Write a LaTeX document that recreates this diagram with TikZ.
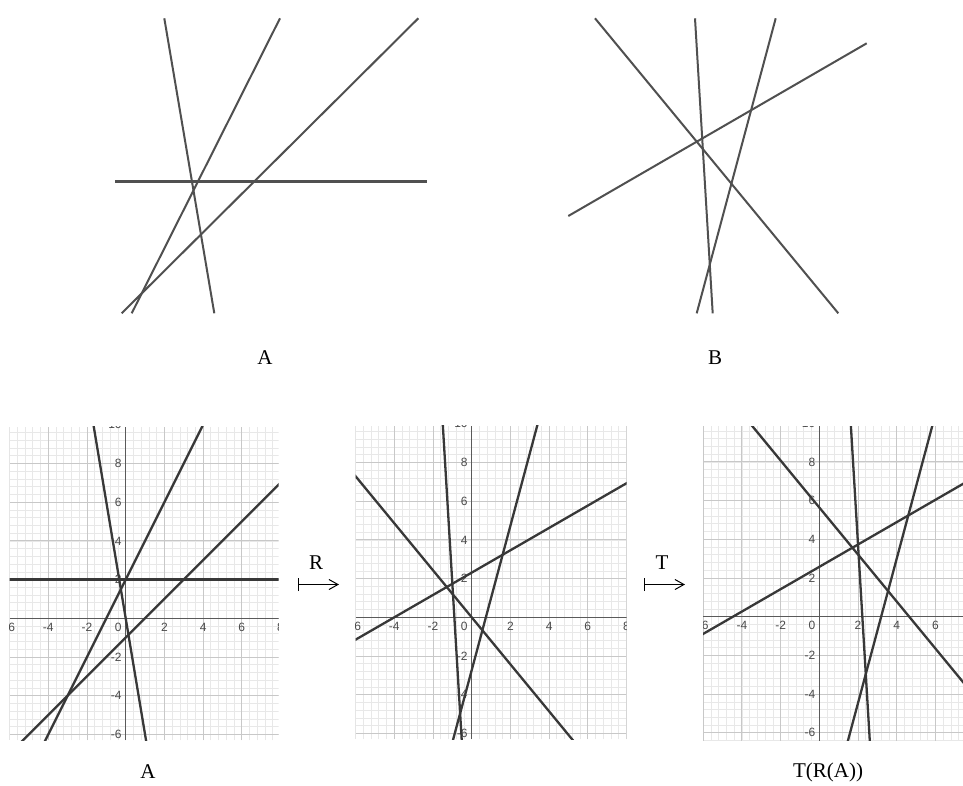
\documentclass[tikz,border=0pt]{standalone}
\usepackage{fontspec}
\setmainfont{Liberation Serif}
\newfontfamily\numfont{Liberation Sans}
\usetikzlibrary{arrows.meta}
\definecolor{minorg}{HTML}{E8E8E8}
\definecolor{majorg}{HTML}{C8C8C8}
\definecolor{axisg}{HTML}{5A5A5A}
\definecolor{lineg}{HTML}{383838}
\definecolor{sketchg}{HTML}{505050}
\definecolor{labg}{HTML}{4A4A4A}
\tikzset{
  pline/.style={lineg, line width=2.3pt},
  sline/.style={sketchg, line width=2pt},
  xlab/.style={anchor=north, inner sep=0pt, text=labg, font=\numfont\fontsize{12}{14}\selectfont},
  ylab/.style={anchor=east, inner sep=0pt, text=labg, font=\numfont\fontsize{12}{14}\selectfont},
  biglab/.style={inner sep=0pt, font=\fontsize{21}{25}\selectfont},
  maparrow/.style={line width=1pt, {Bar[width=13pt]}-{Straight Barb[length=9pt,width=10pt]}},
}
% #1 xmin, #2 xmax, #3 ymin, #4 ymax, #5 prefix, #6 x label list
\newcommand{\panelgrid}[6]{%
  \clip (#1,#3) rectangle (#2,#4);
  \fill[white] (#1,#3) rectangle (#2,#4);
  \draw[minorg, line width=0.7pt, step=0.4] (#1,#3) grid (#2,#4);
  \draw[majorg, line width=1pt, step=2] (#1,#3) grid (#2,#4);
  \draw[axisg, line width=1.2pt] (#1,0) -- (#2,0) (0,#3) -- (0,#4);
  \foreach \v [count=\i] in {#6}
    \node[xlab, name=#5x\i] at (\v,-0.22) {\v};
  \node[xlab, anchor=north east, name=#5xo] at (-0.2,-0.22) {0};
  \foreach \v [count=\i] in {-6,-4,-2,2,4,6,8,10}
    \node[ylab, name=#5y\i] at (-0.2,\v) {\v};
}
\newcommand{\Alines}{%
  \draw[pline] (-20,2) -- (20,2);
  \draw[pline] (-11,-20) -- (9,20);
  \draw[pline] (-19,-20) -- (21,20);
  \draw[pline] (-3.5,21) -- (3.5,-21);
}
\begin{document}
\begin{tikzpicture}[x=1pt, y=-1pt]
\useasboundingbox (0,0) rectangle (963,785);
\fill[white] (0,0) rectangle (963,785);

% ---------- top sketch A ----------
\draw[sline, line width=2.6pt] (115,181.7) -- (426.7,181.7);
\draw[sline] (164.3,18.3) -- (214.3,313.3);
\draw[sline] (280,18.3) -- (131.7,313.3);
\draw[sline] (418.3,18.3) -- (121.7,313.3);
\node[biglab] (topA) at (265,358) {A};

% ---------- top sketch B ----------
\draw[sline] (595,18.3) -- (838.3,313.3);
\draw[sline] (695,18.3) -- (712.7,313.3);
\draw[sline] (775.7,18.3) -- (696.7,313.3);
\draw[sline] (568.3,216) -- (866.7,43.3);
\node[biglab] (topB) at (715,358) {B};

% ---------- panel 1 : A ----------
\begin{scope}[shift={(125.7pt,-618.3pt)}, x=19.35pt, y=19.35pt]
  \begin{scope}
    \panelgrid{-6}{7.9}{-6.3}{9.9}{pa}{-6,-4,-2,2,4,6,8}
    \Alines
  \end{scope}
\end{scope}

% ---------- panel 2 : R(A) ----------
\begin{scope}[shift={(471.7pt,-617.3pt)}, x=19.35pt, y=19.35pt]
  \begin{scope}
    \panelgrid{-6}{8}{-6.3}{9.9}{pb}{-6,-4,-2,2,4,6,8}
    \begin{scope}[rotate=30]
      \Alines
    \end{scope}
  \end{scope}
\end{scope}

% ---------- panel 3 : T(R(A)) ----------
\begin{scope}[shift={(819.3pt,-616.7pt)}, x=19.35pt, y=19.35pt]
  \begin{scope}
    \panelgrid{-6}{7.43}{-6.4}{9.85}{pc}{-6,-4,-2,2,4,6}
    \begin{scope}[shift={(3,2)}, rotate=30]
      \Alines
    \end{scope}
  \end{scope}
\end{scope}

% ---------- maps ----------
\coordinate (r1) at (298,584.5);
\coordinate (r2) at (339,584.5);
\draw[maparrow] (r1) -- (r2);
\node[biglab] (rlab) at (316,563) {R};

\coordinate (t1) at (644,584.5);
\coordinate (t2) at (685,584.5);
\draw[maparrow] (t1) -- (t2);
\node[biglab] (tlab) at (662,563) {T};

% ---------- bottom labels ----------
\node[biglab] (botA) at (148,772) {A};
\node[biglab] (botT) at (828,772) {T(R(A))};
\end{tikzpicture}
\end{document}
